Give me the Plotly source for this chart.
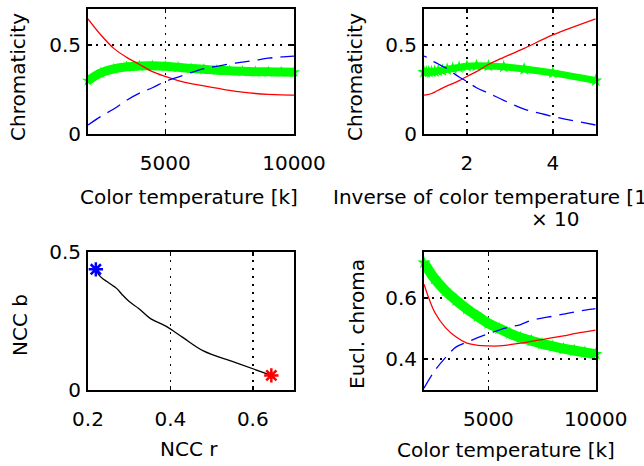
import plotly.graph_objects as go

# ---------------- data ----------------
temps = [2000, 2500, 3000, 3500, 4000, 4500, 5000, 5500, 6000,
         6500, 7000, 7500, 8000, 8500, 9000, 9500, 10000]

# normalized chromaticity r, g, b vs colour temperature
ncc_r = [0.645, 0.555, 0.48, 0.43, 0.39, 0.35, 0.323, 0.30, 0.283,
         0.27, 0.258, 0.246, 0.236, 0.228, 0.223, 0.220, 0.219]
ncc_g = [0.30, 0.343, 0.365, 0.377, 0.382, 0.383, 0.38, 0.374, 0.368,
         0.363, 0.358, 0.355, 0.352, 0.35, 0.349, 0.348, 0.347]
ncc_b = [0.052, 0.10, 0.141, 0.19, 0.23, 0.26, 0.295, 0.32, 0.345,
         0.367, 0.38, 0.393, 0.403, 0.414, 0.425, 0.432, 0.437]

# Euclidean chroma vs colour temperature
eu_r = [0.645, 0.553, 0.503, 0.472, 0.452, 0.445, 0.443, 0.443, 0.447,
        0.452, 0.458, 0.464, 0.47, 0.476, 0.483, 0.489, 0.495]
eu_g = [0.715, 0.662, 0.623, 0.592, 0.564, 0.54, 0.517, 0.50, 0.484,
        0.47, 0.46, 0.45, 0.442, 0.434, 0.428, 0.422, 0.416]
eu_b = [0.305, 0.362, 0.405, 0.44, 0.455, 0.47, 0.483, 0.495, 0.505,
        0.513, 0.527, 0.534, 0.54, 0.547, 0.554, 0.56, 0.565]

inv_scale = 1e4  # inverse temperature shown in units of 10^-4
inv_t = [inv_scale / t for t in temps]

# tick values / labels
tl_xticks = [5000, 10000];  tl_xlabels = ["5000", "10000"]
tl_yticks = [0, 0.5];       tl_ylabels = ["0", "0.5"]
tr_xticks = [2, 4];         tr_xlabels = ["2", "4"]
bl_xticks = [0.2, 0.4, 0.6]; bl_xlabels = ["0.2", "0.4", "0.6"]
bl_yticks = [0, 0.5];       bl_ylabels = ["0", "0.5"]
br_xticks = [5000, 10000];  br_xlabels = ["5000", "10000"]
br_yticks = [0.4, 0.6];     br_ylabels = ["0.4", "0.6"]

# ---------------- figure ----------------
W, H = 644, 466
FONT = "DejaVu Sans"
RED, GREEN, BLUE = "#ff0000", "#00ff00", "#0000ff"


def px_x(p):
    return p / W


def px_y(p):
    return 1 - p / H


fig = go.Figure()

DASH = "15px,8px"


def add_three(xs, r, g, b, xa, ya, gwidth, gmarker):
    fig.add_trace(go.Scatter(x=xs, y=g, mode="lines+markers",
                             line=dict(color=GREEN, width=gwidth, shape="spline"),
                             marker=dict(symbol="star", size=gmarker, color=GREEN),
                             xaxis=xa, yaxis=ya, showlegend=False, cliponaxis=False))
    fig.add_trace(go.Scatter(x=xs, y=r, mode="lines",
                             line=dict(color=RED, width=1.3, shape="spline"),
                             xaxis=xa, yaxis=ya, showlegend=False))
    fig.add_trace(go.Scatter(x=xs, y=b, mode="lines",
                             line=dict(color=BLUE, width=1.3, dash=DASH, shape="spline"),
                             xaxis=xa, yaxis=ya, showlegend=False))


add_three(temps, ncc_r, ncc_g, ncc_b, "x", "y", 9, 9)
add_three(inv_t, ncc_r, ncc_g, ncc_b, "x2", "y2", 7, 10)
add_three(temps, eu_r, eu_g, eu_b, "x4", "y4", 10, 10)

# NCC r vs NCC b locus
fig.add_trace(go.Scatter(x=ncc_r, y=ncc_b, mode="lines",
                         line=dict(color="black", width=1.3, shape="spline"),
                         xaxis="x3", yaxis="y3", showlegend=False))
fig.add_trace(go.Scatter(x=[ncc_r[-1]], y=[ncc_b[-1]], mode="markers",
                         marker=dict(symbol="asterisk-open", size=12, color=BLUE,
                                     line=dict(color=BLUE, width=2.5)),
                         xaxis="x3", yaxis="y3", showlegend=False, cliponaxis=False))
fig.add_trace(go.Scatter(x=[ncc_r[0]], y=[ncc_b[0]], mode="markers",
                         marker=dict(symbol="asterisk-open", size=12, color=RED,
                                     line=dict(color=RED, width=2.5)),
                         xaxis="x3", yaxis="y3", showlegend=False, cliponaxis=False))

common = dict(showline=True, linecolor="black", linewidth=2, mirror="ticks",
              ticks="inside", ticklen=4, tickwidth=1.5, tickcolor="black",
              showgrid=True, gridcolor="black", gridwidth=1.5, griddash="2px,6px",
              zeroline=False, automargin=False,
              tickfont=dict(family=FONT, size=20, color="black"))

panels = {
    "tl": dict(x=(88, 294), y=(9, 134.3)),
    "tr": dict(x=(424, 595.7), y=(9, 134.3)),
    "bl": dict(x=(88, 294), y=(252, 389.7)),
    "br": dict(x=(424, 595.7), y=(252, 389.7)),
}


def dom(p):
    d = panels[p]
    return ([px_x(d["x"][0]), px_x(d["x"][1])],
            [px_y(d["y"][1]), px_y(d["y"][0])])


XSTAND, YSTAND = 10, 1

layout_axes = {}
for i, (key, xr, yr, xt, xl, yt, yl) in enumerate([
    ("tl", [2000, 10000], [0, 0.7], tl_xticks, tl_xlabels, tl_yticks, tl_ylabels),
    ("tr", [1, 5], [0, 0.7], tr_xticks, tr_xlabels, tl_yticks, tl_ylabels),
    ("bl", [0.2, 0.7], [0, 0.5], bl_xticks, bl_xlabels, bl_yticks, bl_ylabels),
    ("br", [2000, 10000], [0.3, 0.75], br_xticks, br_xlabels, br_yticks, br_ylabels),
], start=1):
    dx, dy = dom(key)
    sfx = "" if i == 1 else str(i)
    layout_axes["xaxis" + sfx] = dict(common, domain=dx, range=xr, tickvals=xt,
                                      ticktext=xl, anchor="y" + sfx,
                                      ticklabelstandoff=XSTAND)
    layout_axes["yaxis" + sfx] = dict(common, domain=dy, range=yr, tickvals=yt,
                                      ticktext=yl, anchor="x" + sfx,
                                      ticklabelstandoff=YSTAND)

annos = []


def label(text, x, y, angle=0):
    annos.append(dict(text=text, x=px_x(x), y=px_y(y), xref="paper", yref="paper",
                      showarrow=False, textangle=angle, xanchor="center",
                      yanchor="middle", font=dict(family=FONT, size=20, color="black")))


label("Color temperature [k]", 189, 197)
label("Inverse of color temperature [1/k]", 503, 197)
label("× 10", 555, 219)
label("NCC r", 189, 449)
label("Color temperature [k]", 506, 450)
label("Chromaticity", 18, 77, -90)
label("Chromaticity", 355, 77, -90)
label("NCC b", 20, 325, -90)
label("Eucl. chroma", 357, 324, -90)

fig.update_layout(template="none", width=W, height=H,
                  margin=dict(l=0, r=0, t=0, b=0, pad=0),
                  paper_bgcolor="white", plot_bgcolor="white", showlegend=False,
                  annotations=annos, **layout_axes)

fig.write_html("out.html", config={"displayModeBar": False, "staticPlot": True},
               post_script="document.body.style.margin='0';"
                           "document.body.style.padding='0';"
                           "document.body.style.overflow='hidden';")
